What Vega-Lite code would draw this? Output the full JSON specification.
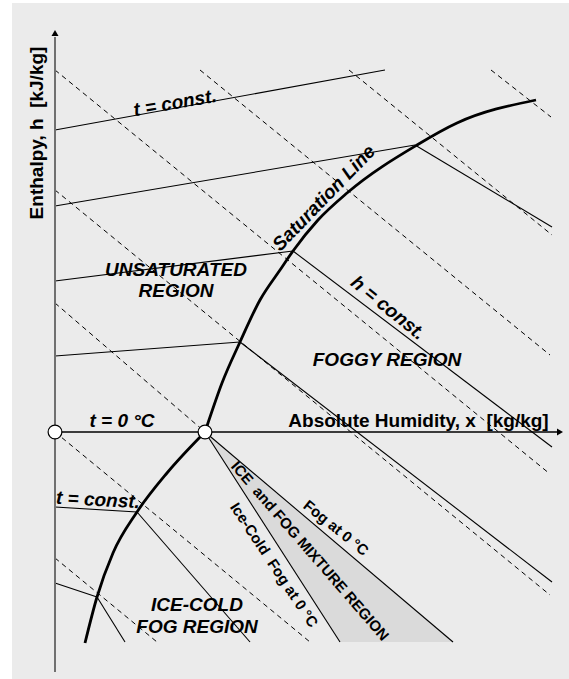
{
  "$schema": "https://vega.github.io/schema/vega-lite/v6.json",
  "width": 557,
  "height": 676,
  "autosize": "none",
  "padding": {"left": 12, "top": 3, "right": 0, "bottom": 0},
  "background": "white",
  "config": {"view": {"stroke": null, "fill": "#ebebeb"}, "text": {"font": "Liberation Sans", "align": "center", "baseline": "middle", "fontWeight": "bold", "color": "black"}},
  "datasets": {
    "wedge": [
      {"x": 150, "y": 0, "y2": 0},
      {"x": 285, "y": -114, "y2": -210},
      {"x": 398, "y": -210, "y2": -210}
    ],
    "dashed": [
      {"x": 0, "y": 362, "x2": 495, "y2": -42},
      {"x": 145, "y": 362, "x2": 495, "y2": 77},
      {"x": 294, "y": 362, "x2": 497, "y2": 197},
      {"x": 436, "y": 362, "x2": 496, "y2": 315},
      {"x": 0, "y": 242, "x2": 495, "y2": -163},
      {"x": 0, "y": 129, "x2": 150, "y2": 0},
      {"x": 0, "y": 0, "x2": 255, "y2": -210},
      {"x": 0, "y": -126, "x2": 102, "y2": -210}
    ],
    "solid": [
      {"x": 0, "y": 302, "x2": 330, "y2": 362},
      {"x": 0, "y": 226, "x2": 360, "y2": 287},
      {"x": 360, "y": 287, "x2": 497, "y2": 205},
      {"x": 0, "y": 151, "x2": 238, "y2": 181},
      {"x": 238, "y": 181, "x2": 497, "y2": -15},
      {"x": 0, "y": 76, "x2": 185, "y2": 90},
      {"x": 185, "y": 90, "x2": 497, "y2": -150},
      {"x": 0, "y": -75, "x2": 82, "y2": -80},
      {"x": 82, "y": -80, "x2": 195, "y2": -210},
      {"x": 0, "y": -151, "x2": 42, "y2": -165},
      {"x": 42, "y": -165, "x2": 70, "y2": -210},
      {"x": 150, "y": 0, "x2": 285, "y2": -210},
      {"x": 150, "y": 0, "x2": 398, "y2": -210}
    ],
    "xaxis": [{"x": 0, "y": 0, "x2": 503, "y2": 0}],
    "yaxis": [{"x": 0, "y": -240, "x2": 0, "y2": 395}],
    "saturation": [
      {"seg": "ice", "x": 30, "y": -211}, {"seg": "ice", "x": 42, "y": -165}, {"seg": "ice", "x": 58, "y": -121},
      {"seg": "ice", "x": 82, "y": -80}, {"seg": "ice", "x": 112, "y": -41}, {"seg": "ice", "x": 150, "y": 0},
      {"seg": "water", "x": 150, "y": 0}, {"seg": "water", "x": 153, "y": 9}, {"seg": "water", "x": 167, "y": 49},
      {"seg": "water", "x": 185, "y": 90}, {"seg": "water", "x": 205, "y": 132}, {"seg": "water", "x": 225, "y": 162},
      {"seg": "water", "x": 238, "y": 181}, {"seg": "water", "x": 263, "y": 212}, {"seg": "water", "x": 292, "y": 239},
      {"seg": "water", "x": 362, "y": 287}, {"seg": "water", "x": 402, "y": 309}, {"seg": "water", "x": 481, "y": 332}
    ],
    "arrowUp": [{"x": 0, "y": 399}],
    "arrowRight": [{"x": 505, "y": 0}],
    "circles": [{"x": 0, "y": 0}, {"x": 150, "y": 0}],
    "lblEnthalpy": [{"x": -18, "y": 299, "t": "Enthalpy, h\u00a0\u00a0[kJ/kg]"}],
    "lblTconstTop": [{"x": 120, "y": 329, "t": "t = const."}],
    "lblSat": [{"x": 269, "y": 234, "t": "Saturation Line"}],
    "lblRegions": [
      {"x": 121, "y": 162, "t": "UNSATURATED"},
      {"x": 121, "y": 141, "t": "REGION"},
      {"x": 332, "y": 72, "t": "FOGGY REGION"},
      {"x": 142, "y": -173, "t": "ICE-COLD"},
      {"x": 142, "y": -195, "t": "FOG REGION"},
      {"x": 67, "y": 11, "t": "t = 0 °C"}
    ],
    "lblHconst": [{"x": 333, "y": 124, "t": "h = const."}],
    "lblXaxis": [{"x": 363.5, "y": 11.5, "t": "Absolute Humidity, x\u00a0\u00a0[kg/kg]"}],
    "lblTconstLow": [{"x": 43, "y": -68, "t": "t = const."}],
    "lblMix": [{"x": 255, "y": -119, "t": "ICE\u00a0\u00a0and FOG MIXTURE REGION"}],
    "lblIceFog": [{"x": 219, "y": -133, "t": "Ice-Cold\u00a0\u00a0Fog at 0 °C"}],
    "lblFog": [{"x": 281, "y": -96, "t": "Fog at 0 °C"}]
  },
  "encoding": {
    "x": {"field": "x", "type": "quantitative", "scale": {"domain": [-43, 514], "nice": false, "zero": false}, "axis": null},
    "y": {"field": "y", "type": "quantitative", "scale": {"domain": [-247, 429], "nice": false, "zero": false}, "axis": null}
  },
  "layer": [
    {"data": {"name": "wedge"}, "mark": {"type": "area", "fill": "#dadada", "opacity": 1}, "encoding": {"y2": {"field": "y2"}}},
    {"data": {"name": "dashed"}, "mark": {"type": "rule", "stroke": "black", "strokeWidth": 1, "strokeDash": [5, 4]}, "encoding": {"x2": {"field": "x2"}, "y2": {"field": "y2"}}},
    {"data": {"name": "solid"}, "mark": {"type": "rule", "stroke": "black", "strokeWidth": 1.1}, "encoding": {"x2": {"field": "x2"}, "y2": {"field": "y2"}}},
    {"data": {"name": "xaxis"}, "mark": {"type": "rule", "stroke": "black", "strokeWidth": 1.5}, "encoding": {"x2": {"field": "x2"}, "y2": {"field": "y2"}}},
    {"data": {"name": "yaxis"}, "mark": {"type": "rule", "stroke": "#707070", "strokeWidth": 2}, "encoding": {"x2": {"field": "x2"}, "y2": {"field": "y2"}}},
    {"data": {"name": "saturation"}, "mark": {"type": "line", "interpolate": "monotone", "stroke": "black", "strokeWidth": 2.8}, "encoding": {"detail": {"field": "seg", "type": "nominal"}}},
    {"data": {"name": "arrowUp"}, "mark": {"type": "point", "shape": "triangle-up", "size": 49, "filled": true, "fill": "black", "opacity": 1, "strokeWidth": 0}, "encoding": {}},
    {"data": {"name": "arrowRight"}, "mark": {"type": "point", "shape": "triangle-right", "size": 49, "filled": true, "fill": "black", "opacity": 1, "strokeWidth": 0}, "encoding": {}},
    {"data": {"name": "circles"}, "mark": {"type": "point", "shape": "circle", "size": 190, "filled": true, "fill": "white", "stroke": "black", "strokeWidth": 1.2, "opacity": 1}, "encoding": {}},
    {"data": {"name": "lblEnthalpy"}, "mark": {"type": "text", "angle": 270, "fontSize": 19, "fontStyle": "normal"}, "encoding": {"text": {"field": "t"}}},
    {"data": {"name": "lblTconstTop"}, "mark": {"type": "text", "angle": 350, "fontSize": 19, "fontStyle": "italic"}, "encoding": {"text": {"field": "t"}}},
    {"data": {"name": "lblSat"}, "mark": {"type": "text", "angle": 314, "fontSize": 19, "fontStyle": "italic"}, "encoding": {"text": {"field": "t"}}},
    {"data": {"name": "lblRegions"}, "mark": {"type": "text", "fontSize": 19, "fontStyle": "italic"}, "encoding": {"text": {"field": "t"}}},
    {"data": {"name": "lblHconst"}, "mark": {"type": "text", "angle": 39, "fontSize": 19, "fontStyle": "italic"}, "encoding": {"text": {"field": "t"}}},
    {"data": {"name": "lblXaxis"}, "mark": {"type": "text", "fontSize": 19, "fontStyle": "normal"}, "encoding": {"text": {"field": "t"}}},
    {"data": {"name": "lblTconstLow"}, "mark": {"type": "text", "angle": 3, "fontSize": 19, "fontStyle": "italic"}, "encoding": {"text": {"field": "t"}}},
    {"data": {"name": "lblMix"}, "mark": {"type": "text", "angle": 49, "fontSize": 15, "fontStyle": "normal"}, "encoding": {"text": {"field": "t"}}},
    {"data": {"name": "lblIceFog"}, "mark": {"type": "text", "angle": 56.5, "fontSize": 15, "fontStyle": "normal"}, "encoding": {"text": {"field": "t"}}},
    {"data": {"name": "lblFog"}, "mark": {"type": "text", "angle": 39, "fontSize": 15, "fontStyle": "normal"}, "encoding": {"text": {"field": "t"}}}
  ]
}
